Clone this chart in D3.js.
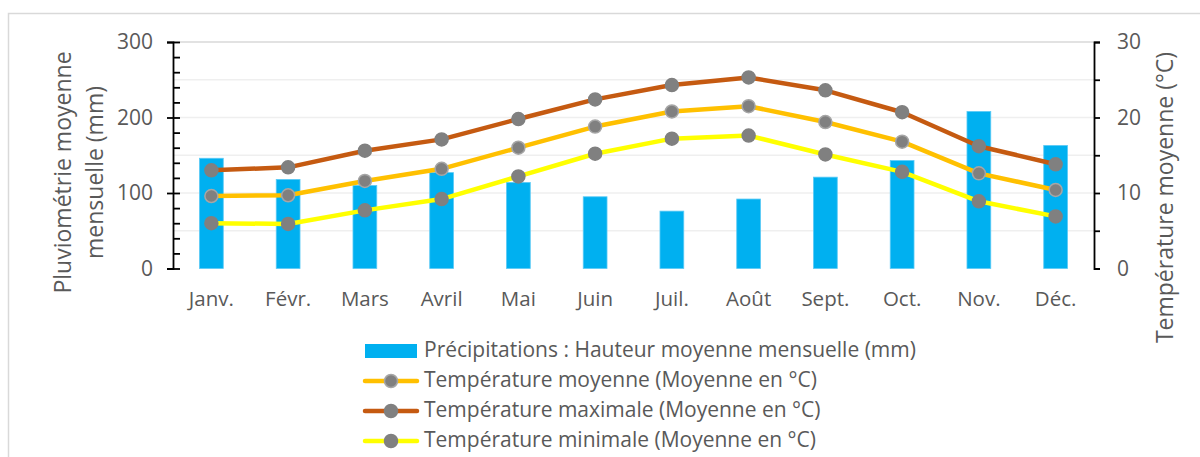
<!DOCTYPE html>
<html lang="fr">
<head>
<meta charset="utf-8">
<script src="https://cdn.jsdelivr.net/npm/d3@7"></script>
<style>
  html, body { margin: 0; padding: 0; background: #fff; }
  svg { display: block; font-family: "Open Sans", "Noto Sans", sans-serif; }
</style>
</head>
<body>
<svg id="chart" width="1200" height="457"></svg>
<script>
// Monthly climate normals
const months = ["Janv.", "Févr.", "Mars", "Avril", "Mai", "Juin", "Juil.", "Août", "Sept.", "Oct.", "Nov.", "Déc."];
const precipitation = [146, 118, 110, 127, 114, 95, 76, 92, 121, 143, 208, 163];
const tempMean = [9.6, 9.7, 11.6, 13.2, 16.0, 18.8, 20.8, 21.5, 19.4, 16.8, 12.6, 10.4];
const tempMax = [13.0, 13.4, 15.6, 17.1, 19.8, 22.4, 24.3, 25.3, 23.6, 20.7, 16.2, 13.8];
const tempMin = [6.0, 5.9, 7.7, 9.2, 12.2, 15.2, 17.2, 17.6, 15.1, 12.8, 8.9, 6.9];
const leftTicks = [0, 100, 200, 300];
const rightTicks = [0, 10, 20, 30];

const svg = d3.select("#chart");
const textColor = "#595959";

// Outer chart frame
svg.append("rect")
  .attr("x", 8.5).attr("y", 13.5)
  .attr("width", 1200).attr("height", 460)
  .attr("fill", "none").attr("stroke", "#d9d9d9").attr("stroke-width", 1.5);

const plot = { left: 173, right: 1094, top: 42, bottom: 268.5 };

const x = d3.scaleBand().domain(months).range([plot.left, plot.right]).paddingInner(0.69).paddingOuter(0.345);
const yP = d3.scaleLinear().domain([0, 300]).range([plot.bottom, plot.top]);
const yT = d3.scaleLinear().domain([0, 30]).range([plot.bottom, plot.top]);
const cx = m => x(m) + x.bandwidth() / 2;

// Horizontal gridlines every 50 mm
const grid = svg.append("g");
d3.range(50, 301, 50).forEach(v => {
  grid.append("line")
    .attr("x1", plot.left).attr("x2", plot.right)
    .attr("y1", yP(v)).attr("y2", yP(v))
    .attr("stroke", v === 300 ? "#d9d9d9" : "#efefef")
    .attr("stroke-width", 1.5);
});

// Precipitation bars
svg.append("g").selectAll("rect").data(precipitation).join("rect")
  .attr("x", (d, i) => x(months[i]))
  .attr("y", d => yP(d))
  .attr("width", x.bandwidth())
  .attr("height", d => yP(0) - yP(d))
  .attr("fill", "#00b0f0")
  .attr("stroke", "#5ccaf5").attr("stroke-width", 0.8);

// Temperature lines with markers
const series = [
  { values: tempMax, color: "#c55a11", ring: "#808080" },
  { values: tempMean, color: "#ffc000", ring: "#a6a6a6" },
  { values: tempMin, color: "#ffff00", ring: "#808080" }
];
const line = d3.line().x((d, i) => cx(months[i])).y(d => yT(d));
series.forEach(s => {
  svg.append("path").datum(s.values)
    .attr("d", line).attr("fill", "none")
    .attr("stroke", s.color).attr("stroke-width", 4.5)
    .attr("stroke-linejoin", "round");
  svg.append("g").selectAll("circle").data(s.values).join("circle")
    .attr("cx", (d, i) => cx(months[i]))
    .attr("cy", d => yT(d))
    .attr("r", 6.5)
    .attr("fill", "#808080")
    .attr("stroke", s.ring).attr("stroke-width", 1.5);
});

// Left axis: major ticks with labels, minor ticks inside
svg.append("g").attr("transform", `translate(${plot.left},0)`)
  .call(d3.axisLeft(yP).tickValues(leftTicks).tickSize(6).tickPadding(14));
svg.append("g").attr("transform", `translate(${plot.left},0)`)
  .call(d3.axisRight(yP).tickValues(d3.range(0, 301, 20)).tickSize(7).tickFormat(""))
  .select(".domain").remove();

// Right axis
svg.append("g").attr("transform", `translate(${plot.right},0)`)
  .call(d3.axisRight(yT).tickValues(d3.range(0, 31, 5)).tickSize(6).tickPadding(17)
    .tickFormat(d => rightTicks.includes(d) ? d : ""));

svg.selectAll(".domain").attr("stroke", "#000").attr("stroke-width", 1.8);
svg.selectAll(".tick line").attr("stroke", "#000").attr("stroke-width", 1.8);
svg.selectAll(".tick text").attr("fill", textColor).style("font-size", "21px")
  .style("font-family", "'Open Sans', sans-serif");

// Month labels
svg.append("g").selectAll("text").data(months).join("text")
  .attr("x", d => cx(d)).attr("y", 301)
  .attr("text-anchor", "middle").attr("dominant-baseline", "middle")
  .attr("fill", textColor).style("font-size", "20.5px")
  .text(d => d);

// Axis titles
const leftTitle = svg.append("text")
  .attr("transform", "translate(79,172.5) rotate(-90)")
  .attr("text-anchor", "middle").attr("fill", textColor).style("font-size", "23px");
leftTitle.append("tspan").attr("x", 0).attr("dy", "-0.35em").text("Pluviométrie moyenne");
leftTitle.append("tspan").attr("x", 0).attr("dy", "1.39em").text("mensuelle (mm)");

svg.append("text")
  .attr("transform", "translate(1167,197.5) rotate(-90)")
  .attr("text-anchor", "middle").attr("dominant-baseline", "middle")
  .attr("fill", textColor).style("font-size", "23px")
  .text("Température moyenne (°C)");

// Legend
const legendItems = [
  { label: "Précipitations : Hauteur moyenne mensuelle (mm)", type: "bar", color: "#00b0f0" },
  { label: "Température moyenne (Moyenne en °C)", type: "line", color: "#ffc000", ring: "#a6a6a6" },
  { label: "Température maximale (Moyenne en °C)", type: "line", color: "#c55a11", ring: "#808080" },
  { label: "Température minimale (Moyenne en °C)", type: "line", color: "#ffff00", ring: "#808080" }
];
const legend = svg.append("g");
legendItems.forEach((it, i) => {
  const yy = 351 + i * 30;
  if (it.type === "bar") {
    legend.append("rect").attr("x", 365).attr("y", yy - 7).attr("width", 52).attr("height", 14).attr("fill", it.color);
  } else {
    legend.append("line").attr("x1", 365).attr("x2", 417).attr("y1", yy).attr("y2", yy)
      .attr("stroke", it.color).attr("stroke-width", 4.5).attr("stroke-linecap", "round");
    legend.append("circle").attr("cx", 391).attr("cy", yy).attr("r", 6.5)
      .attr("fill", "#808080").attr("stroke", it.ring).attr("stroke-width", 1.5);
  }
  legend.append("text").attr("x", 424).attr("y", yy)
    .attr("dominant-baseline", "middle").attr("fill", textColor).style("font-size", "21px")
    .text(it.label);
});
</script>
</body>
</html>
